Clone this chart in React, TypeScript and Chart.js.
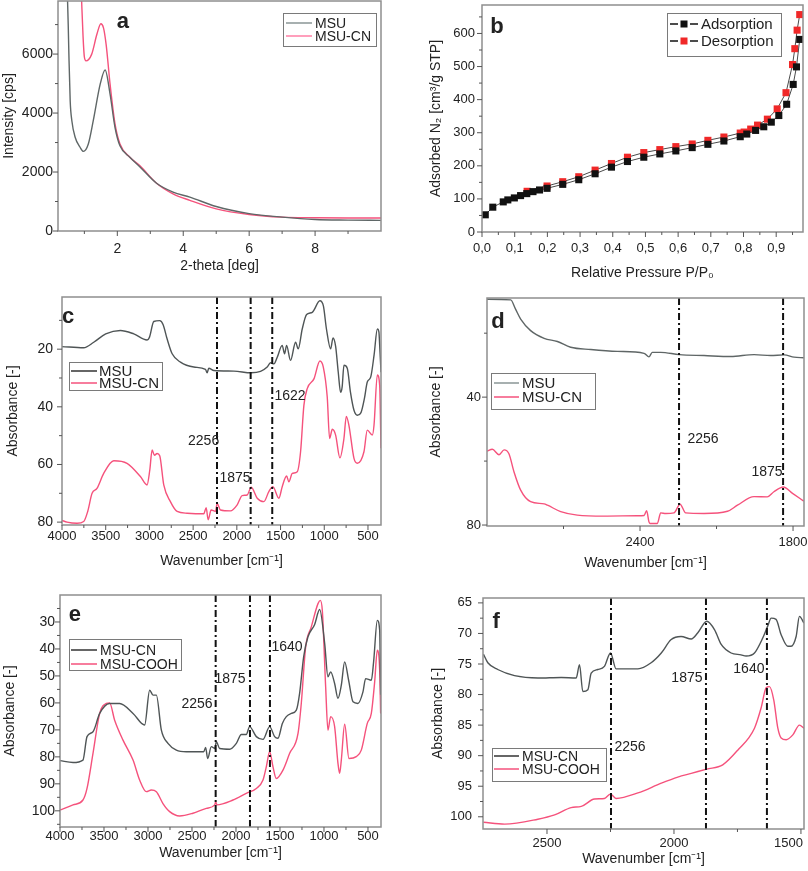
import React, { useEffect, useRef } from "react";
import { Chart, registerables } from "chart.js";
Chart.register(...registerables);

type Pair = [number, number];

const FONT = "'Liberation Sans', Arial, Helvetica, sans-serif";
const TEXT = "#222";
const GRAY = "#4f5556";
const GRAY_A = "#5f6767";
const PINK = "#f5527c";
const TITLE = 14;

// ---------- panel a : XRD ----------
const aMSU: Pair[] = [[0.48, 8200], [0.51, 7000], [0.53, 6000], [0.57, 4410], [0.62, 3740], [0.72, 3180], [0.87, 2840], [0.97, 2700], [1.12, 2950], [1.27, 3740], [1.48, 4980], [1.63, 5460], [1.78, 4640], [1.93, 3510], [2.08, 2890], [2.38, 2500], [2.68, 2180], [3.19, 1620], [3.69, 1320], [4.2, 1150], [5.0, 830], [6.0, 590], [7.0, 470], [8.0, 390], [9.0, 370], [10.0, 360]];
const aMSUCN: Pair[] = [[0.91, 8000], [0.96, 6600], [1.0, 5900], [1.05, 5770], [1.22, 5990], [1.38, 6670], [1.5, 7030], [1.58, 6890], [1.66, 6330], [1.78, 4980], [1.93, 3630], [2.08, 2950], [2.38, 2500], [2.68, 2220], [3.19, 1620], [3.69, 1260], [4.2, 1040], [5.0, 750], [6.0, 560], [7.0, 470], [8.0, 450], [9.0, 440], [10.0, 440]];

// ---------- panel b : N2 isotherm ----------
const bAdsorption: Pair[] = [[0.01, 52], [0.033, 75], [0.065, 91], [0.079, 97], [0.099, 103], [0.118, 110], [0.137, 116], [0.156, 122], [0.176, 127], [0.199, 132], [0.247, 144], [0.296, 158], [0.346, 176], [0.396, 196], [0.445, 213], [0.495, 226], [0.544, 236], [0.593, 245], [0.643, 255], [0.691, 265], [0.74, 275], [0.79, 288], [0.81, 296], [0.837, 307], [0.862, 318], [0.885, 332], [0.908, 352], [0.932, 386], [0.952, 446], [0.962, 499], [0.972, 582]];
const bDesorption: Pair[] = [[0.138, 123], [0.199, 139], [0.247, 152], [0.296, 167], [0.346, 187], [0.396, 207], [0.445, 226], [0.495, 240], [0.544, 249], [0.593, 258], [0.643, 266], [0.691, 277], [0.74, 287], [0.79, 299], [0.802, 302], [0.822, 311], [0.843, 323], [0.873, 341], [0.903, 372], [0.93, 421], [0.95, 506], [0.957, 554], [0.964, 610], [0.972, 657]];

// ---------- panel c : FTIR MSU / MSU-CN ----------
const cMSU: Pair[] = [[4000, 19.1], [3752, 19.5], [3637, 17.6], [3500, 14.7], [3332, 13.5], [3179, 14.7], [3027, 16.8], [3000, 15.9], [2950, 10.4], [2882, 10.1], [2843, 11.5], [2798, 16.4], [2740, 21.6], [2645, 24.5], [2492, 26.2], [2359, 27.0], [2340, 28.2], [2321, 26.6], [2263, 27.4], [2034, 27.6], [1836, 28.2], [1729, 27.7], [1653, 26.2], [1615, 24.7], [1576, 25.1], [1538, 22.8], [1481, 18.7], [1454, 21.6], [1431, 18.7], [1386, 23.9], [1328, 17.6], [1298, 19.9], [1252, 13.0], [1202, 8.0], [1137, 7.2], [1050, 3.2], [1010, 5.0], [975, 13.0], [927, 19.9], [900, 16.1], [870, 19.0], [840, 28.0], [813, 35.0], [795, 33.0], [775, 25.6], [737, 26.6], [700, 35.0], [660, 41.2], [622, 42.9], [580, 42.0], [540, 37.0], [508, 31.4], [469, 29.7], [430, 22.0], [393, 13.0], [375, 14.0], [366, 18.7], [351, 28.0]];
const cMSUCN: Pair[] = [[4000, 79.4], [3943, 80], [3828, 80.4], [3752, 79.8], [3706, 76.3], [3656, 70], [3600, 68.3], [3523, 63.1], [3408, 58.7], [3256, 59.6], [3103, 64.2], [3027, 67.1], [2996, 62], [2969, 55.0], [2943, 56.8], [2912, 56.2], [2882, 57], [2836, 67.1], [2760, 72.9], [2683, 76.3], [2569, 76.9], [2378, 77.1], [2351, 75], [2328, 79.2], [2294, 75.8], [2244, 76.3], [2225, 73.5], [2187, 75.8], [2073, 76.1], [1996, 74], [1939, 70.8], [1882, 70.6], [1836, 67.9], [1767, 71.7], [1691, 72.9], [1634, 69.4], [1588, 67.7], [1519, 71.7], [1481, 67.7], [1431, 64], [1405, 66], [1366, 63.1], [1309, 62.5], [1271, 55.6], [1233, 39.5], [1195, 33.7], [1118, 30.3], [1050, 24.1], [1011, 26.2], [966, 36.6], [939, 51], [908, 47.8], [870, 49.8], [821, 57.7], [775, 51], [748, 43.3], [718, 46.4], [660, 57.9], [622, 59.6], [546, 55.6], [508, 48.1], [450, 49.8], [431, 46.4], [393, 28.9], [366, 32.6], [355, 48], [351, 54.4]];
const cMarkers = [2227, 1842, 1595];

// ---------- panel d : FTIR zoom ----------
const dMSU: Pair[] = [[3000, 9.4], [2907, 9.6], [2888, 12.5], [2868, 15.6], [2829, 19.2], [2776, 21.6], [2724, 22.6], [2672, 24.4], [2593, 25.1], [2489, 25.7], [2384, 26.3], [2365, 27.4], [2352, 26.0], [2319, 26.0], [2246, 26.7], [2149, 27.0], [2044, 27.3], [1953, 26.7], [1888, 27.0], [1835, 26.8], [1796, 27.5], [1758, 27.7]];
const dMSUCN: Pair[] = [[3000, 56.9], [2979, 56.3], [2953, 58.0], [2933, 56.5], [2914, 57.7], [2894, 63.4], [2868, 69.1], [2829, 72.7], [2776, 73.4], [2763, 73.8], [2711, 75.8], [2646, 76.9], [2541, 77.2], [2410, 77.1], [2384, 77.0], [2374, 75.5], [2365, 79.0], [2361, 79.5], [2332, 79.5], [2319, 76.2], [2299, 76.4], [2267, 76.2], [2243, 73.5], [2221, 76.2], [2149, 76.4], [2057, 75.7], [2018, 73.8], [1953, 71.1], [1901, 71.2], [1875, 69.6], [1838, 68.1], [1802, 70.1], [1758, 72.5]];
const dMarkers = [2247, 1839];

// ---------- panel e : FTIR MSU-CN / MSU-COOH ----------
const eMSUCN: Pair[] = [[4000, 81.4], [3852, 82.1], [3739, 81.2], [3693, 72.5], [3625, 70.7], [3549, 63.9], [3436, 60.2], [3322, 60.2], [3170, 63.9], [3038, 68.2], [2981, 55.3], [2943, 57.1], [2905, 57.1], [2848, 70.1], [2773, 75], [2678, 77.5], [2564, 78.1], [2367, 78.1], [2345, 76.5], [2322, 80.6], [2280, 76.2], [2242, 76.9], [2223, 74.4], [2186, 76.9], [2072, 77.2], [1996, 75], [1939, 71.7], [1883, 71.7], [1845, 68.8], [1769, 72.5], [1693, 73.5], [1617, 68.8], [1561, 72.5], [1523, 73.1], [1473, 67.6], [1428, 65.1], [1371, 63.9], [1314, 62.7], [1277, 56.5], [1231, 42.9], [1182, 35.5], [1106, 30.9], [1049, 25.4], [992, 38], [955, 50.3], [924, 48.5], [879, 52.8], [841, 58.3], [803, 53.4], [765, 44.8], [720, 51.6], [670, 59.6], [614, 60.2], [557, 55.9], [527, 51], [462, 51.6], [436, 44.8], [394, 29.4], [367, 33.1], [356, 57]];
const eMSUCOOH: Pair[] = [[4000, 99.7], [3852, 97.8], [3739, 96], [3693, 91.7], [3625, 78.7], [3549, 63.9], [3474, 60.2], [3436, 60], [3379, 66.4], [3284, 73.8], [3170, 81.2], [3095, 88.6], [3019, 92.9], [2962, 92.3], [2905, 92.9], [2830, 97.3], [2754, 100.3], [2640, 101.9], [2489, 100.9], [2337, 99.1], [2242, 97.8], [2231, 96.6], [2216, 97.8], [2034, 96], [1883, 93.5], [1769, 91.7], [1693, 88.6], [1655, 83.6], [1617, 78.1], [1580, 83.6], [1542, 88], [1466, 84.9], [1390, 78.7], [1295, 71.3], [1258, 60.2], [1208, 39.2], [1144, 31.8], [1068, 23.2], [1042, 22], [1019, 25.7], [981, 54], [955, 70.1], [924, 65.1], [879, 68.8], [841, 82.4], [822, 86.1], [803, 81.2], [765, 67.9], [716, 80.6], [633, 79.9], [576, 77.5], [508, 67.6], [462, 63.9], [424, 52.2], [394, 40.5], [367, 47.9], [356, 63.9]];
const eMarkers = [2231, 1841, 1614];

// ---------- panel f : FTIR zoom ----------
const fMSUCN: Pair[] = [[2750, 73.4], [2733, 74.8], [2694, 75.9], [2628, 76.9], [2536, 77.3], [2444, 77.2], [2385, 77.3], [2372, 75.1], [2359, 79.5], [2339, 79.2], [2326, 76.5], [2300, 75.9], [2274, 75.4], [2250, 73.2], [2228, 75.8], [2142, 75.8], [2090, 74.8], [2050, 73.2], [2011, 71], [1972, 70.5], [1932, 70.9], [1906, 69.9], [1871, 68], [1840, 69.4], [1814, 71.8], [1775, 73.2], [1736, 73.5], [1716, 73.7], [1683, 73.2], [1650, 70.7], [1631, 68.8], [1617, 67.5], [1598, 67.7], [1578, 70.2], [1552, 72.1], [1539, 72.1], [1519, 70.5], [1506, 67.2], [1488, 68.3]];
const fMSUCOOH: Pair[] = [[2750, 100.9], [2667, 101.2], [2536, 100.4], [2470, 99.7], [2405, 98.5], [2365, 98.3], [2313, 97.1], [2274, 97], [2250, 96.3], [2228, 97], [2142, 96.1], [2050, 94.5], [1985, 93.5], [1932, 92.9], [1871, 92.2], [1808, 91.5], [1749, 89.1], [1683, 85.5], [1657, 82.2], [1637, 78.9], [1624, 78.7], [1607, 80.9], [1591, 85.5], [1578, 87.1], [1558, 87.4], [1532, 86.6], [1506, 85], [1488, 85.5]];
const fMarkers = [2248, 1874, 1634];

// ---------- helpers ----------
const steps = (a: number, b: number, s: number) => {
  const out: number[] = [];
  const n = Math.round((b - a) / s);
  for (let i = 0; i <= n; i++) out.push(Math.round((a + i * s) * 1000) / 1000);
  return out;
};

interface AxisSpec {
  min: number; max: number; reverse?: boolean;
  major: number[]; minor: number[];
  fmt?: (v: number) => string;
  title: string; tickSize: number;
  labelPos: number; titlePos: number;
  edgeLabel?: number; // major value whose label is right-aligned to the plot edge
}
interface Series { data: Pair[]; color: string; width?: number; marker?: string; markerColor?: string; }
interface LegendSpec { box: [number, number, number, number]; rows: number[]; line: [number, number]; textX: number; font: number; items: { label: string; color: string; marker?: string }[]; }
interface PanelSpec {
  canvas: { left: number; top: number; w: number; h: number };
  area: { l: number; t: number; r: number; b: number };
  x: AxisSpec; y: AxisSpec; series: Series[]; markers: number[];
  notes: { text: string; x: number; y: number }[];
  letter: { text: string; x: number; y: number };
  legend: LegendSpec;
}

const WN = "Wavenumber [cm\u207B\u00B9]";
const ABS = "Absorbance [-]";

const panels: PanelSpec[] = [
  {
    canvas: { left: 0, top: 0, w: 404, h: 285 },
    area: { l: 58, t: 1, r: 381, b: 231 },
    x: { min: 0.2, max: 10, major: [2, 4, 6, 8], minor: [1, 3, 5, 7, 9], title: "2-theta [deg]", tickSize: 14, labelPos: 249, titlePos: 266 },
    y: { min: 0, max: 7800, major: [0, 2000, 4000, 6000], minor: [1000, 3000, 5000, 7000], title: "Intensity [cps]", tickSize: 14, labelPos: 53, titlePos: 9 },
    series: [{ data: aMSU, color: GRAY_A }, { data: aMSUCN, color: PINK }],
    markers: [],
    notes: [],
    letter: { text: "a", x: 2.17, y: 7100 },
    legend: { box: [283, 13, 376, 46], rows: [23, 36], line: [286, 312], textX: 315, font: 14, items: [{ label: "MSU", color: "#8a9696" }, { label: "MSU-CN", color: "#ff7fa6" }] },
  },
  {
    canvas: { left: 404, top: 0, w: 404, h: 285 },
    area: { l: 482, t: 1, r: 803, b: 232 },
    x: { min: 0, max: 0.982, major: steps(0, 0.9, 0.1), minor: steps(0.05, 0.95, 0.1), fmt: (v) => v.toFixed(1).replace(".", ","), title: "Relative Pressure P/P\u2080", tickSize: 13, labelPos: 248, titlePos: 273 },
    y: { min: 0, max: 686, major: steps(0, 600, 100), minor: steps(50, 650, 100), title: "Adsorbed N\u2082 [cm\u00B3/g STP]", tickSize: 13, labelPos: 475, titlePos: 436 },
    series: [
      { data: bAdsorption, color: "#4a4a4a", width: 1, marker: "rect", markerColor: "#111" },
      { data: bDesorption, color: "#4a4a4a", width: 1, marker: "rect", markerColor: "#f02828" },
    ],
    markers: [],
    notes: [],
    letter: { text: "b", x: 0.046, y: 621 },
    legend: { box: [667, 13, 781, 56], rows: [24, 41], line: [670, 698], textX: 701, font: 15, items: [{ label: "Adsorption", color: "#111", marker: "#111" }, { label: "Desorption", color: "#111", marker: "#f02828" }] },
  },
  {
    canvas: { left: 0, top: 285, w: 404, h: 290 },
    area: { l: 62, t: 297, r: 381, b: 525 },
    x: { min: 351, max: 4000, reverse: true, major: steps(500, 4000, 500), minor: steps(750, 3750, 500), title: WN, tickSize: 13, labelPos: 536, titlePos: 561 },
    y: { min: 1.9, max: 81, reverse: true, major: [20, 40, 60, 80], minor: [10, 30, 50, 70], title: ABS, tickSize: 14, labelPos: 53, titlePos: 13 },
    series: [{ data: cMSU, color: GRAY }, { data: cMSUCN, color: PINK }],
    markers: cMarkers,
    notes: [{ text: "2256", x: 2380, y: 52 }, { text: "1875", x: 2021, y: 64.7 }, { text: "1622", x: 1392, y: 36.3 }],
    letter: { text: "c", x: 3931, y: 8.9 },
    legend: { box: [69, 362, 162, 390], rows: [371, 383], line: [71, 97], textX: 99, font: 15, items: [{ label: "MSU", color: "#333" }, { label: "MSU-CN", color: PINK }] },
  },
  {
    canvas: { left: 404, top: 285, w: 404, h: 290 },
    area: { l: 487, t: 298, r: 804, b: 526 },
    x: { min: 1757, max: 3000, reverse: true, major: [2400, 1800], minor: [2700, 2100], title: WN, tickSize: 13, labelPos: 542, titlePos: 563 },
    y: { min: 9, max: 80.3, reverse: true, major: [40, 80], minor: [20, 60], title: ABS, tickSize: 13, labelPos: 481, titlePos: 436 },
    series: [{ data: dMSU, color: "#5f6666" }, { data: dMSUCN, color: PINK }],
    markers: dMarkers,
    notes: [{ text: "2256", x: 2153, y: 53.1 }, { text: "1875", x: 1902, y: 63.4 }],
    letter: { text: "d", x: 2957, y: 16.6 },
    legend: { box: [491, 373, 595, 409], rows: [383, 397], line: [494, 519], textX: 522, font: 15, items: [{ label: "MSU", color: "#8a9696" }, { label: "MSU-CN", color: PINK }] },
  },
  {
    canvas: { left: 0, top: 575, w: 404, h: 296 },
    area: { l: 60, t: 595, r: 381, b: 827 },
    x: { min: 352, max: 4000, reverse: true, major: steps(500, 4000, 500), minor: steps(750, 3750, 500), title: WN, tickSize: 13, labelPos: 836, titlePos: 853 },
    y: { min: 20, max: 106, reverse: true, major: steps(30, 100, 10), minor: steps(25, 105, 10), title: ABS, tickSize: 14, labelPos: 55, titlePos: 10 },
    series: [{ data: eMSUCN, color: GRAY }, { data: eMSUCOOH, color: PINK }],
    markers: eMarkers,
    notes: [{ text: "2256", x: 2443, y: 60.4 }, { text: "1875", x: 2068, y: 51.1 }, { text: "1640", x: 1420, y: 39.3 }],
    letter: { text: "e", x: 3830, y: 27.4 },
    legend: { box: [69, 639, 181, 670], rows: [650, 664], line: [71, 97], textX: 100, font: 14, items: [{ label: "MSU-CN", color: "#333" }, { label: "MSU-COOH", color: PINK }] },
  },
  {
    canvas: { left: 404, top: 575, w: 404, h: 296 },
    area: { l: 483, t: 598, r: 804, b: 829 },
    x: { min: 1488, max: 2752, reverse: true, major: [2500, 2000, 1500], minor: [2250, 1750], title: WN, tickSize: 13, labelPos: 843, titlePos: 859, edgeLabel: 1500 },
    y: { min: 64.2, max: 102, reverse: true, major: steps(65, 100, 5), minor: steps(67.5, 97.5, 5), title: ABS, tickSize: 13, labelPos: 472, titlePos: 438 },
    series: [{ data: fMSUCN, color: GRAY }, { data: fMSUCOOH, color: PINK }],
    markers: fMarkers,
    notes: [{ text: "2256", x: 2173, y: 88.6 }, { text: "1875", x: 1949, y: 77.3 }, { text: "1640", x: 1705, y: 75.8 }],
    letter: { text: "f", x: 2700, y: 68.1 },
    legend: { box: [492, 748, 606, 781], rows: [756, 769], line: [494, 519], textX: 522, font: 14, items: [{ label: "MSU-CN", color: "#333" }, { label: "MSU-COOH", color: PINK }] },
  },
];

function scaleOpts(ax: AxisSpec, isX: boolean, p: PanelSpec) {
  const lh = ax.tickSize * 1.2;
  const tlh = TITLE * 1.2;
  const cvBottom = p.canvas.top + p.canvas.h;
  return {
    type: "linear",
    min: ax.min,
    max: ax.max,
    reverse: !!ax.reverse,
    afterBuildTicks: (s: any) => { s.ticks = ax.major.map((v) => ({ value: v })); },
    afterFit: (s: any) => {
      if (isX) { s.height = cvBottom - p.area.b; s.paddingLeft = 0; s.paddingRight = 0; }
      else { s.width = p.area.l - p.canvas.left; s.paddingTop = 0; s.paddingBottom = 0; }
    },
    grid: { display: false, drawTicks: false },
    border: { display: false },
    ticks: {
      autoSkip: false, maxRotation: 0, minRotation: 0, color: TEXT,
      font: { family: FONT, size: ax.tickSize },
      padding: isX ? ax.labelPos - p.area.b - lh / 2 : p.area.l - ax.labelPos,
      callback: (v: any) => {
        const n = Number(v);
        if (ax.edgeLabel !== undefined && n === ax.edgeLabel) return "";
        return ax.fmt ? ax.fmt(n) : String(n);
      },
    },
    title: {
      display: true, text: ax.title, color: TEXT,
      font: { family: FONT, size: TITLE },
      padding: isX ? { top: 0, bottom: cvBottom - ax.titlePos - tlh / 2 } : { top: ax.titlePos - p.canvas.left - tlh / 2, bottom: 0 },
    },
  };
}

function decor(p: PanelSpec) {
  return {
    id: "decor",
    afterDatasetsDraw(chart: any) {
      const { ctx, chartArea: ca, scales } = chart;
      const xs = scales.x, ys = scales.y;
      const ox = p.canvas.left, oy = p.canvas.top;
      ctx.save();
      // dash-dot marker lines
      ctx.strokeStyle = "#111";
      ctx.lineWidth = 2;
      ctx.setLineDash([7, 3, 2, 3]);
      for (const m of p.markers) {
        const px = xs.getPixelForValue(m);
        ctx.beginPath(); ctx.moveTo(px, ca.top); ctx.lineTo(px, ca.bottom); ctx.stroke();
      }
      ctx.setLineDash([]);
      // frame
      ctx.strokeStyle = "#8e8e8e";
      ctx.lineWidth = 1.5;
      ctx.strokeRect(ca.left, ca.top, ca.right - ca.left, ca.bottom - ca.top);
      // ticks
      ctx.strokeStyle = "#555";
      ctx.lineWidth = 1;
      const inRange = (ax: AxisSpec, v: number) => v >= ax.min && v <= ax.max;
      const xt = (v: number, len: number) => { if (!inRange(p.x, v)) return; const px = xs.getPixelForValue(v); ctx.beginPath(); ctx.moveTo(px, ca.bottom); ctx.lineTo(px, ca.bottom + len); ctx.stroke(); };
      const yt = (v: number, len: number) => { if (!inRange(p.y, v)) return; const py = ys.getPixelForValue(v); ctx.beginPath(); ctx.moveTo(ca.left, py); ctx.lineTo(ca.left - len, py); ctx.stroke(); };
      p.x.minor.forEach((v) => xt(v, 3)); p.x.major.forEach((v) => xt(v, 5));
      p.y.minor.forEach((v) => yt(v, 3)); p.y.major.forEach((v) => yt(v, 5));
      ctx.fillStyle = TEXT;
      ctx.textBaseline = "middle";
      // edge label, right-aligned to the plot edge
      if (p.x.edgeLabel !== undefined) {
        ctx.font = `${p.x.tickSize}px ${FONT}`;
        ctx.textAlign = "right";
        const lbl = p.x.fmt ? p.x.fmt(p.x.edgeLabel) : String(p.x.edgeLabel);
        ctx.fillText(lbl, ca.right - 1, p.x.labelPos - oy);
      }
      // notes
      ctx.textAlign = "center";
      ctx.font = `14px ${FONT}`;
      for (const n of p.notes) ctx.fillText(n.text, xs.getPixelForValue(n.x), ys.getPixelForValue(n.y));
      // letter
      ctx.font = `bold 22px ${FONT}`;
      ctx.fillText(p.letter.text, xs.getPixelForValue(p.letter.x), ys.getPixelForValue(p.letter.y));
      // legend
      const L = p.legend;
      const [bx1, by1, bx2, by2] = L.box;
      ctx.fillStyle = "#fff";
      ctx.fillRect(bx1 - ox, by1 - oy, bx2 - bx1, by2 - by1);
      ctx.strokeStyle = "#7a7a7a";
      ctx.lineWidth = 1;
      ctx.strokeRect(bx1 - ox + 0.5, by1 - oy + 0.5, bx2 - bx1, by2 - by1);
      ctx.font = `${L.font}px ${FONT}`;
      ctx.textAlign = "left";
      L.items.forEach((it, i) => {
        const y = L.rows[i] - oy;
        ctx.strokeStyle = it.color;
        ctx.lineWidth = 1.5;
        ctx.beginPath(); ctx.moveTo(L.line[0] - ox, y); ctx.lineTo(L.line[1] - ox, y); ctx.stroke();
        if (it.marker) {
          const cx = (L.line[0] + L.line[1]) / 2 - ox;
          ctx.fillStyle = "#fff";
          ctx.fillRect(cx - 6, y - 4, 12, 8);
          ctx.fillStyle = it.marker;
          ctx.fillRect(cx - 3.5, y - 3.5, 7, 7);
        }
        ctx.fillStyle = TEXT;
        ctx.fillText(it.label, L.textX - ox, y + 1);
      });
      ctx.restore();
    },
  };
}

function Panel({ p }: { p: PanelSpec }) {
  const ref = useRef<HTMLCanvasElement | null>(null);
  useEffect(() => {
    if (!ref.current) return;
    const cv = p.canvas;
    const chart = new Chart(ref.current, {
      type: "line",
      data: {
        datasets: p.series.map((s) => ({
          data: s.data.map(([x, y]) => ({ x, y })),
          borderColor: s.color,
          borderWidth: s.width ?? 1.4,
          pointRadius: s.marker ? 5 : 0,
          pointStyle: s.marker ? "rect" : "circle",
          pointBackgroundColor: s.markerColor ?? s.color,
          pointBorderColor: s.markerColor ?? s.color,
          pointBorderWidth: 0,
          cubicInterpolationMode: s.marker ? "default" : "monotone",
          tension: 0,
          fill: false,
        })) as any,
      },
      options: {
        animation: false,
        responsive: false,
        maintainAspectRatio: false,
        events: [],
        layout: { padding: { left: 0, top: p.area.t - cv.top, right: cv.left + cv.w - p.area.r, bottom: 0 } },
        plugins: { legend: { display: false }, tooltip: { enabled: false } },
        scales: { x: scaleOpts(p.x, true, p) as any, y: scaleOpts(p.y, false, p) as any },
      },
      plugins: [decor(p) as any],
    });
    return () => chart.destroy();
  }, [p]);
  return (
    <canvas
      ref={ref}
      width={p.canvas.w}
      height={p.canvas.h}
      style={{ position: "absolute", left: p.canvas.left, top: p.canvas.top, width: p.canvas.w, height: p.canvas.h }}
    />
  );
}

export default function App() {
  return (
    <div style={{ position: "fixed", left: 0, top: 0, width: 808, height: 871, background: "#fff", overflow: "hidden" }}>
      {panels.map((p, i) => (
        <Panel key={i} p={p} />
      ))}
    </div>
  );
}
